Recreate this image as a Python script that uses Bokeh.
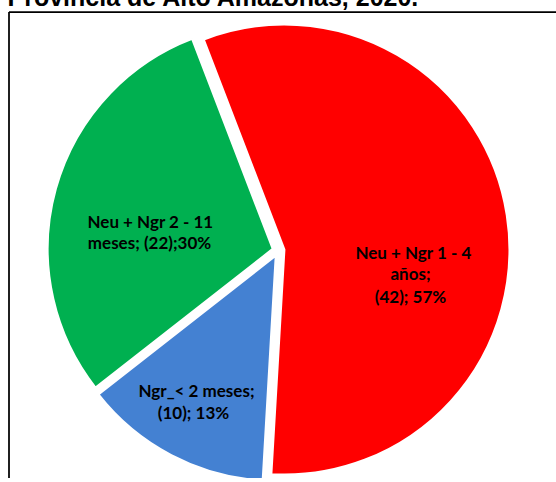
import math
from bokeh.plotting import figure
from bokeh.models import Range1d, ColumnDataSource
from bokeh.core.properties import value
from bokeh.embed import file_html
from bokeh.resources import INLINE

# ---- data ----
categories = ["Neu + Ngr 1 - 4 años", "Ngr_< 2 meses", "Neu + Ngr 2 - 11 meses"]
counts = [42, 10, 22]
label_lines = [
    ["Neu + Ngr 1 - 4", "años;", "(42); 57%"],
    ["Ngr_< 2 meses;", "(10); 13%"],
    ["Neu + Ngr 2 - 11", "meses; (22);30%"],
]
colors = ["#FF0000", "#4481D2", "#00B050"]
title_text = "Provincia de Alto Amazonas, 2020."

# ---- layout (page pixels) ----
X0, Y0 = -8, -8            # page position of canvas corner (after margin)
W, H = 564, 486
CX, CY = 278, 250          # pie centre (page coords)
R = 225
EXPLODE = 6
START_DEG = 111            # first slice begins here (math angle), runs clockwise
label_pos = [[(413, 252), (410, 273), (410, 296)],
             [(196, 390), (193, 412)],
             [(150, 221), (149, 242)]]
TITLE_ANCHOR_Y = -3.5      # text anchor so that the visible baseline sits near y=6


def py(y):
    # page y -> data y (data y grows upward)
    return (Y0 + H) - y


p = figure(width=W, height=H, output_backend="svg", toolbar_location=None,
           x_range=Range1d(X0, X0 + W), y_range=Range1d(0, H),
           min_border=0, margin=(-8, 0, 0, -8))
p.axis.visible = False
p.grid.visible = False
p.outline_line_color = None
p.background_fill_color = "white"

total = sum(counts)
starts, ends, xs, ys = [], [], [], []
a = math.radians(START_DEG)
for c in counts:
    span = 2 * math.pi * c / total
    s, e = a, a - span
    mid = (s + e) / 2
    starts.append(s)
    ends.append(e)
    xs.append(CX + EXPLODE * math.cos(mid))
    ys.append(py(CY) + EXPLODE * math.sin(mid))
    a = e

src = ColumnDataSource(dict(x=xs, y=ys, s=starts, e=ends, color=colors, cat=categories))
p.wedge(x="x", y="y", radius=R, start_angle="s", end_angle="e", direction="clock",
        fill_color="color", line_color="white", line_width=2, source=src)

# labels
tx, ty, tt = [], [], []
for lines, poss in zip(label_lines, label_pos):
    for t, (lx, ly) in zip(lines, poss):
        tx.append(lx)
        ty.append(py(ly))
        tt.append(t)
p.text(x=tx, y=ty, text=tt, text_align="center", text_baseline="middle",
       text_font=value("Lato"), text_font_style="bold", text_font_size="17px",
       text_color="black")

# chart frame (extends past right/bottom edge)
p.multi_line(xs=[[8.5, 8.5], [8.5, 600]], ys=[[py(11.5), -20], [py(11.5), py(11.5)]],
             line_color="black", line_width=1.75)

# title (partly cut at top)
p.text(x=[7], y=[py(TITLE_ANCHOR_Y)], text=[title_text], text_align="left",
       text_baseline="alphabetic", text_font=value("Liberation Sans"),
       text_font_style="bold", text_font_size="25px", text_color="black")

open("out.html", "w").write(file_html(p, INLINE))
